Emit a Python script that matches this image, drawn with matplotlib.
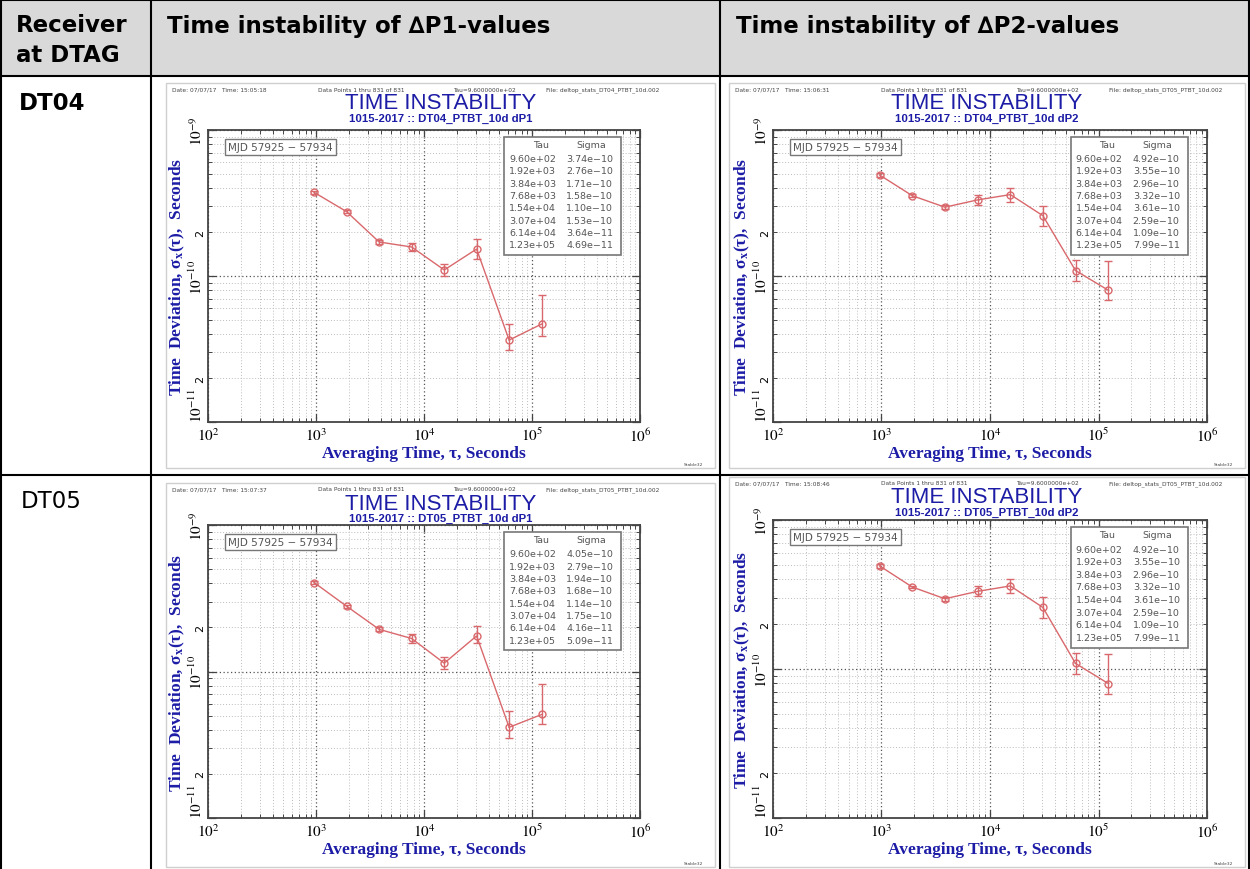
import matplotlib
matplotlib.use('Agg')
import matplotlib.pyplot as plt
from matplotlib.lines import Line2D
from matplotlib.patches import Rectangle
from matplotlib.ticker import FixedLocator, FuncFormatter, NullFormatter
import numpy as np

plt.rcParams['mathtext.fontset'] = 'stix'

# ---------------- data ----------------
tau = [9.60e2, 1.92e3, 3.84e3, 7.68e3, 1.54e4, 3.07e4, 6.14e4, 1.23e5]

sig_dt04_p1 = [3.74e-10, 2.76e-10, 1.71e-10, 1.58e-10, 1.10e-10, 1.53e-10, 3.64e-11, 4.69e-11]
hi_dt04_p1 = [3.83e-10, 2.83e-10, 1.77e-10, 1.68e-10, 1.21e-10, 1.79e-10, 4.68e-11, 7.41e-11]
lo_dt04_p1 = [3.65e-10, 2.69e-10, 1.66e-10, 1.48e-10, 1.00e-10, 1.31e-10, 3.11e-11, 3.88e-11]

sig_dt04_p2 = [4.92e-10, 3.55e-10, 2.96e-10, 3.32e-10, 3.61e-10, 2.59e-10, 1.09e-10, 7.99e-11]
hi_dt04_p2 = [5.08e-10, 3.63e-10, 3.05e-10, 3.59e-10, 4.03e-10, 3.03e-10, 1.28e-10, 1.26e-10]
lo_dt04_p2 = [4.77e-10, 3.47e-10, 2.87e-10, 3.07e-10, 3.23e-10, 2.21e-10, 0.93e-10, 6.82e-11]

sig_dt05_p1 = [4.05e-10, 2.79e-10, 1.94e-10, 1.68e-10, 1.14e-10, 1.75e-10, 4.16e-11, 5.09e-11]
hi_dt05_p1 = [4.15e-10, 2.86e-10, 2.00e-10, 1.80e-10, 1.25e-10, 2.05e-10, 5.34e-11, 8.25e-11]
lo_dt05_p1 = [3.95e-10, 2.72e-10, 1.88e-10, 1.57e-10, 1.04e-10, 1.56e-10, 3.50e-11, 4.35e-11]

sig_dt05_p2 = [4.92e-10, 3.55e-10, 2.96e-10, 3.32e-10, 3.61e-10, 2.59e-10, 1.09e-10, 7.99e-11]
hi_dt05_p2 = [5.08e-10, 3.63e-10, 3.05e-10, 3.59e-10, 4.03e-10, 3.03e-10, 1.28e-10, 1.26e-10]
lo_dt05_p2 = [4.77e-10, 3.47e-10, 2.87e-10, 3.07e-10, 3.23e-10, 2.21e-10, 0.93e-10, 6.82e-11]

header_col0 = ['Receiver', 'at DTAG']
header_cols = ['Time instability of \u2206P1-values', 'Time instability of \u2206P2-values']
row_labels = ['DT04', 'DT05']
subtitles = ['1015-2017 :: DT04_PTBT_10d dP1', '1015-2017 :: DT04_PTBT_10d dP2',
             '1015-2017 :: DT05_PTBT_10d dP1', '1015-2017 :: DT05_PTBT_10d dP2']
times = ['15:05:18', '15:06:31', '15:07:37', '15:08:46']
files = ['deltop_stats_DT04_PTBT_10d.002', 'deltop_stats_DT05_PTBT_10d.002',
         'deltop_stats_DT05_PTBT_10d.002', 'deltop_stats_DT05_PTBT_10d.002']
mjd_text = 'MJD 57925 \u2212 57934'

# ---------------- layout ----------------
W, H = 1250, 870
fig = plt.figure(figsize=(W / 100, H / 100), dpi=100)
fig.patch.set_facecolor('white')


def fx(x):
    return x / W


def fy(y):
    return 1 - y / H


BLUE = '#1c1ca6'
RED = '#d9686c'
GREY = '#555555'

# header background
fig.add_artist(Rectangle((0, fy(77)), 1, 77 / H, transform=fig.transFigure,
                         facecolor='#d9d9d9', edgecolor='none', zorder=0))


def hline(y, x1=0, x2=W):
    fig.add_artist(Line2D([fx(x1), fx(x2)], [fy(y), fy(y)], transform=fig.transFigure,
                          color='black', lw=1.5, zorder=10))


def vline(x, y1=0, y2=H):
    fig.add_artist(Line2D([fx(x), fx(x)], [fy(y1), fy(y2)], transform=fig.transFigure,
                          color='black', lw=1.5, zorder=10))


hline(1)
hline(77)
hline(476)
vline(1)
vline(1249)
vline(151)
vline(720)

TFS = 16.5
fig.text(fx(16), fy(25), header_col0[0], fontsize=TFS, fontweight='bold', va='center', ha='left')
fig.text(fx(16), fy(56), header_col0[1], fontsize=TFS, fontweight='bold', va='center', ha='left')
fig.text(fx(167), fy(27), header_cols[0], fontsize=TFS, fontweight='bold', va='center', ha='left')
fig.text(fx(736), fy(27), header_cols[1], fontsize=TFS, fontweight='bold', va='center', ha='left')
fig.text(fx(19), fy(104), row_labels[0], fontsize=TFS, fontweight='bold', va='center', ha='left')
fig.text(fx(21), fy(502), row_labels[1], fontsize=TFS, va='center', ha='left')

SANS = ['Liberation Sans', 'DejaVu Sans']
SERIF = ['Liberation Serif', 'DejaVu Serif']


def xfmt(v, pos):
    return r'$10^{%d}$' % int(round(np.log10(v)))


def yfmt(v, pos):
    return r'$10^{%d}$' % int(round(np.log10(v)))


def yminor_fmt(v, pos):
    m = v / 10 ** np.floor(np.log10(v) + 1e-9)
    return '2' if abs(m - 2) < 1e-6 else ''


def draw_panel(idx, img, axbox, sig, hi, lo):
    ix0, iy0, ix1, iy1 = img
    fig.add_artist(Rectangle((fx(ix0), fy(iy1)), (ix1 - ix0) / W, (iy1 - iy0) / H,
                             transform=fig.transFigure, facecolor='white',
                             edgecolor='#cfcfcf', lw=1, zorder=1))
    # small header
    ty = iy0 + 6
    fig.text(fx(ix0 + 6), fy(ty), 'Date: 07/07/17   Time: ' + times[idx], fontsize=4.2, color='#444', va='center')
    fig.text(fx(ix0 + 152), fy(ty), 'Data Points 1 thru 831 of 831', fontsize=4.2, color='#444', va='center')
    fig.text(fx(ix0 + 287), fy(ty), 'Tau=9.6000000e+02', fontsize=4.2, color='#444', va='center')
    fig.text(fx(ix0 + 380), fy(ty), 'File: ' + files[idx], fontsize=4.2, color='#444', va='center')
    cx = (ix0 + ix1) / 2
    fig.text(fx(cx), fy(iy0 + 20), 'TIME INSTABILITY', fontsize=16, color=BLUE,
             family=SANS, ha='center', va='center')
    fig.text(fx(cx), fy(iy0 + 35), subtitles[idx], fontsize=8.2, color=BLUE, fontweight='bold',
             family=SANS, ha='center', va='center')
    fig.text(fx(ix1 - 12), fy(iy1 - 4), 'Stable32', fontsize=3.2, color='#444', ha='right', va='center')

    l, t, r, b = axbox
    ax = fig.add_axes([fx(l), fy(b), (r - l) / W, (b - t) / H])
    ax.set_zorder(3)
    ax.set_xscale('log')
    ax.set_yscale('log')
    ax.set_xlim(1e2, 1e6)
    ax.set_ylim(1e-11, 1e-9)

    ax.xaxis.set_major_locator(FixedLocator([1e2, 1e3, 1e4, 1e5, 1e6]))
    ax.xaxis.set_minor_locator(FixedLocator([m * 10 ** e for e in range(2, 6) for m in range(2, 10)]))
    ax.xaxis.set_major_formatter(FuncFormatter(xfmt))
    ax.xaxis.set_minor_formatter(NullFormatter())
    ax.yaxis.set_major_locator(FixedLocator([1e-11, 1e-10, 1e-9]))
    ax.yaxis.set_minor_locator(FixedLocator([m * 10.0 ** e for e in (-11, -10) for m in range(2, 10)]))
    ax.yaxis.set_major_formatter(FuncFormatter(yfmt))
    ax.yaxis.set_minor_formatter(FuncFormatter(yminor_fmt))

    ax.grid(which='major', ls=(0, (1, 2)), color='#555555', lw=0.9)
    ax.grid(which='minor', ls=(0, (1, 2)), color='#bdbdbd', lw=0.7)
    ax.tick_params(which='both', direction='in', top=True, right=True, color='#444')
    ax.tick_params(which='major', length=6, width=0.9, labelsize=11, pad=3)
    ax.tick_params(which='minor', length=3, width=0.7)
    ax.tick_params(axis='y', which='both', labelrotation=90, pad=2)
    ax.tick_params(axis='y', which='minor', labelsize=8)
    for lab in ax.get_yticklabels(which='both'):
        lab.set_va('center')
    ax.yaxis.get_major_ticks()[0].label1.set_va('bottom')
    for s in ax.spines.values():
        s.set_color('#444444')
        s.set_linewidth(1.3)

    sig_a = np.array(sig)
    yerr = [sig_a - np.array(lo), np.array(hi) - sig_a]
    ax.errorbar(tau, sig, yerr=yerr, color=RED, lw=1, marker='o', mfc='none', ms=5,
                mew=1, capsize=3, elinewidth=1, capthick=1, zorder=4)

    ax.set_xlabel('Averaging Time, \u03c4, Seconds', family=SERIF, fontweight='bold',
                  color=BLUE, fontsize=12.5, labelpad=1)
    ax.set_ylabel('Time  Deviation, \u03c3$_{\\mathbf{x}}$(\u03c4),  Seconds', family=SERIF,
                  fontweight='bold', color=BLUE, fontsize=12.5, labelpad=0.5)

    # MJD box
    ax.text(0.046, 0.942, mjd_text, transform=ax.transAxes, fontsize=7.5, color=GREY,
            va='center', ha='left', zorder=6,
            bbox=dict(boxstyle='square,pad=0.3', fc='white', ec='#777777', lw=1))

    # Tau / Sigma table box
    ax.add_patch(Rectangle((0.686, 0.572), 0.270, 0.404, transform=ax.transAxes,
                           facecolor='white', edgecolor='#777777', lw=1.2, zorder=5))
    ax.text(0.770, 0.950, 'Tau', transform=ax.transAxes, fontsize=6.8, color=GREY,
            ha='center', va='center', zorder=6)
    ax.text(0.886, 0.950, 'Sigma', transform=ax.transAxes, fontsize=6.8, color=GREY,
            ha='center', va='center', zorder=6)
    for i, (tv, sv) in enumerate(zip(tau, sig)):
        yy = 0.902 - i * 0.0422
        ax.text(0.697, yy, '%.2e' % tv, transform=ax.transAxes, fontsize=6.8, color=GREY,
                ha='left', va='center', zorder=6)
        ax.text(0.829, yy, ('%.2e' % sv).replace('-', '\u2212'), transform=ax.transAxes,
                fontsize=6.8, color=GREY, ha='left', va='center', zorder=6)
    return ax


draw_panel(0, (166, 84, 715, 469), (208, 131, 640, 423), sig_dt04_p1, hi_dt04_p1, lo_dt04_p1)
draw_panel(1, (729, 84, 1245, 469), (773, 131, 1207, 423), sig_dt04_p2, hi_dt04_p2, lo_dt04_p2)
draw_panel(2, (166, 484, 715, 868), (208, 526, 640, 819), sig_dt05_p1, hi_dt05_p1, lo_dt05_p1)
draw_panel(3, (729, 478, 1245, 868), (773, 521, 1207, 819), sig_dt05_p2, hi_dt05_p2, lo_dt05_p2)

fig.savefig('out.png', dpi=100, facecolor='white')
